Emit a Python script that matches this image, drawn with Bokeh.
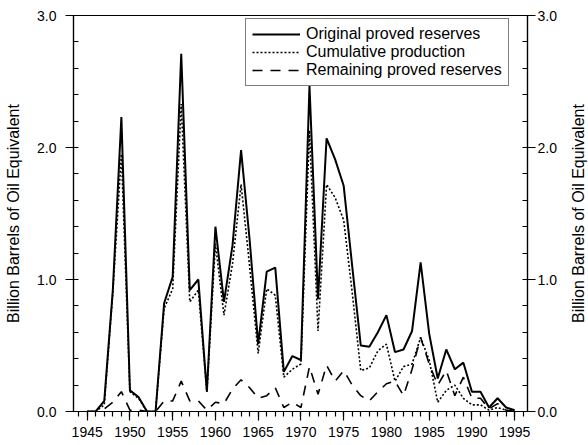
from bokeh.plotting import figure
from bokeh.layouts import row
from bokeh.models import (Range1d, LinearAxis, SingleIntervalTicker, NumeralTickFormatter,
                          Legend, LegendItem, ColumnDataSource, FixedTicker)
from bokeh.embed import file_html
from bokeh.resources import INLINE

years = list(range(1945, 1996))
original = [0.0, 0.0, 0.08, 0.92, 2.23, 0.16, 0.11, 0.0, 0.0, 0.82,
            1.02, 2.71, 0.92, 1.0, 0.15, 1.40, 0.83, 1.26, 1.98, 1.30,
            0.51, 1.06, 1.09, 0.30, 0.42, 0.39, 2.47, 0.85, 2.07, 1.91,
            1.71, 1.10, 0.50, 0.49, 0.60, 0.73, 0.45, 0.47, 0.61, 1.13,
            0.59, 0.25, 0.47, 0.32, 0.37, 0.15, 0.15, 0.03, 0.10, 0.03,
            0.01]
cumulative = [0.0, 0.0, 0.05, 0.90, 1.95, 0.15, 0.10, 0.0, 0.0, 0.78,
              0.93, 2.33, 0.83, 0.92, 0.15, 1.27, 0.73, 1.12, 1.72, 1.10,
              0.44, 0.93, 0.88, 0.26, 0.32, 0.36, 2.13, 0.61, 1.72, 1.62,
              1.45, 0.90, 0.31, 0.33, 0.46, 0.51, 0.23, 0.34, 0.36, 0.56,
              0.39, 0.07, 0.16, 0.20, 0.10, 0.05, 0.05, 0.01, 0.03, 0.01,
              0.0]
remaining = [0.0, 0.0, 0.02, 0.07, 0.15, 0.01, 0.01, 0.0, 0.0, 0.08,
             0.08, 0.23, 0.08, 0.08, 0.01, 0.07, 0.06, 0.17, 0.24, 0.18,
             0.10, 0.12, 0.18, 0.03, 0.07, 0.03, 0.34, 0.13, 0.35, 0.23,
             0.31, 0.20, 0.12, 0.08, 0.15, 0.21, 0.23, 0.12, 0.32, 0.56,
             0.36, 0.20, 0.31, 0.12, 0.26, 0.10, 0.10, 0.02, 0.06, 0.01,
             0.0]
series_names = ["Original proved reserves", "Cumulative production", "Remaining proved reserves"]
y_label = "Billion Barrels of Oil Equivalent"

FONT = "Liberation Sans"

src = ColumnDataSource(dict(year=years, original=original, cumulative=cumulative, remaining=remaining))

p = figure(width=566, height=445, output_backend="svg", toolbar_location=None,
           x_range=Range1d(1943.4, 1996.5), y_range=Range1d(0, 3.0),
           min_border_left=73, min_border_right=39, min_border_top=15, min_border_bottom=34,
           x_axis_location=None, y_axis_location=None)
p.grid.visible = False
p.outline_line_color = "black"
p.outline_line_width = 1.2
p.background_fill_color = "white"
p.border_fill_color = "white"

xaxis = LinearAxis(ticker=SingleIntervalTicker(interval=5, num_minor_ticks=5))
xaxis.major_tick_out = 9
xaxis.major_tick_in = 0
xaxis.minor_tick_out = 5
xaxis.minor_tick_in = 0
xaxis.major_label_standoff = 6
p.add_layout(xaxis, "below")

def yaxis_make(label):
    ax = LinearAxis(ticker=SingleIntervalTicker(interval=1, num_minor_ticks=5),
                    formatter=NumeralTickFormatter(format="0.0"), axis_label=label)
    ax.major_tick_out = 8
    ax.major_tick_in = 0
    ax.minor_tick_out = 0
    ax.minor_tick_in = 5
    ax.axis_label_text_font = FONT
    ax.axis_label_text_font_size = "16px"
    ax.axis_label_text_font_style = "normal"
    ax.axis_label_text_color = "black"
    return ax

yl = yaxis_make(y_label)
yl.major_label_standoff = 9
yl.axis_label_standoff = 12
p.add_layout(yl, "left")
yr = yaxis_make(None)
yr.major_label_standoff = 2
p.add_layout(yr, "right")

for ax in [xaxis, yl, yr]:
    ax.axis_line_color = "black"
    ax.axis_line_width = 1.2
    ax.major_tick_line_color = "black"
    ax.minor_tick_line_color = "black"
    ax.major_tick_line_width = 1.2
    ax.minor_tick_line_width = 1.2
    ax.major_label_text_font = FONT
    ax.major_label_text_font_size = "14px"
    ax.major_label_text_color = "black"

r1 = p.line("year", "original", source=src, line_color="black", line_width=2)
r2 = p.line("year", "cumulative", source=src, line_color="black", line_width=1.6, line_dash="2 2")
r3 = p.line("year", "remaining", source=src, line_color="black", line_width=1.6, line_dash="10 8")

legend = Legend(items=[LegendItem(label=series_names[0], renderers=[r1]),
                       LegendItem(label=series_names[1], renderers=[r2]),
                       LegendItem(label=series_names[2], renderers=[r3])],
                location=(172, 325))
legend.label_text_font = FONT
legend.label_text_font_size = "16px"
legend.label_text_color = "black"
legend.label_height = 18
legend.glyph_height = 18
legend.glyph_width = 48
legend.label_standoff = 6
legend.spacing = 0
legend.padding = 6
legend.margin = 0
legend.border_line_color = "black"
legend.border_line_width = 1.5
legend.background_fill_alpha = 1.0
p.add_layout(legend, "center")

# narrow companion figure carrying the right-hand axis title (reads bottom-to-top)
p2 = figure(width=22, height=445, output_backend="svg", toolbar_location=None,
            x_range=Range1d(0, 1), y_range=Range1d(0, 3.0),
            min_border_left=0, min_border_right=0, min_border_top=15, min_border_bottom=34,
            x_axis_location=None, y_axis_location=None)
p2.grid.visible = False
p2.outline_line_color = None
p2.border_fill_color = "white"
p2.background_fill_color = "white"
lab_axis = LinearAxis(ticker=FixedTicker(ticks=[]), axis_label=y_label)
lab_axis.axis_line_color = None
lab_axis.major_tick_line_color = None
lab_axis.minor_tick_line_color = None
lab_axis.major_tick_out = 0
lab_axis.major_label_standoff = 0
lab_axis.axis_label_standoff = 0
lab_axis.axis_label_text_font = FONT
lab_axis.axis_label_text_font_size = "16px"
lab_axis.axis_label_text_font_style = "normal"
lab_axis.axis_label_text_color = "black"
p2.add_layout(lab_axis, "left")

layout = row(p, p2, spacing=0)
open("out.html", "w").write(file_html(layout, INLINE))
